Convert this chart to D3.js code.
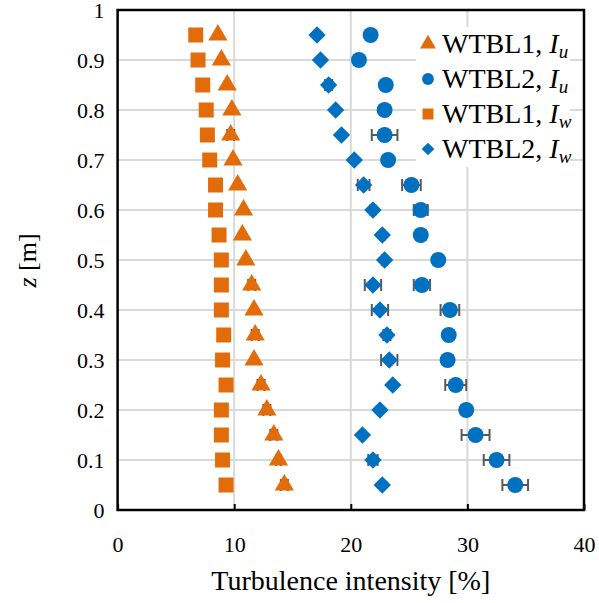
<!DOCTYPE html>
<html>
<head>
<meta charset="utf-8">
<script src="https://cdn.jsdelivr.net/npm/d3@7"></script>
<style>
  body { margin: 0; background: #fff; }
  text { font-family: "Liberation Serif", "Times New Roman", Times, serif; }
</style>
</head>
<body>
<div class="canvas"></div>
<script>
// heights [m]
const zVals = [0.95, 0.9, 0.85, 0.8, 0.75, 0.7, 0.65, 0.6, 0.55, 0.5,
    0.45, 0.4, 0.35, 0.3, 0.25, 0.2, 0.15, 0.1, 0.05];

// turbulence intensities [%]
const wtbl1Iu = [8.6, 8.9, 9.4, 9.8, 9.7, 9.9, 10.3, 10.8, 10.7, 11.0,
    11.5, 11.7, 11.8, 11.7, 12.3, 12.8, 13.4, 13.8, 14.3];
const wtbl1IuErr = [0, 0, 0, 0, 0.3, 0, 0, 0, 0, 0,
    0.3, 0, 0.3, 0, 0.3, 0.3, 0.3, 0.2, 0.3];
const wtbl2Iu = [21.7, 20.7, 23.0, 22.9, 22.9, 23.2, 25.2, 26.0, 26.0, 27.5,
    26.1, 28.5, 28.4, 28.3, 29.0, 29.9, 30.7, 32.5, 34.1];
const wtbl2IuErr = [0, 0, 0, 0, 1.1, 0.3, 0.8, 0.6, 0.4, 0.3,
    0.7, 0.8, 0.2, 0.4, 0.9, 0.3, 1.2, 1.1, 1.1];
const wtbl1Iw = [6.7, 6.9, 7.3, 7.6, 7.7, 7.9, 8.4, 8.4, 8.7, 8.9,
    8.9, 8.9, 9.1, 9.0, 9.3, 8.9, 8.9, 9.0, 9.3];
const wtbl2Iw = [17.1, 17.4, 18.1, 18.7, 19.2, 20.3, 21.1, 21.9, 22.7, 22.9,
    21.9, 22.5, 23.1, 23.3, 23.6, 22.5, 21.0, 21.9, 22.7];
const wtbl2IwErr = [0, 0, 0.3, 0, 0, 0, 0.5, 0.2, 0.2, 0.2,
    0.7, 0.7, 0.3, 0.7, 0, 0, 0, 0.4, 0];

const xTicks = [0, 10, 20, 30, 40];
const yTicks = [0, 0.1, 0.2, 0.3, 0.4, 0.5, 0.6, 0.7, 0.8, 0.9, 1];

const orange = '#E36C0A';
const blue = '#0070C0';

const svg = d3.select('.canvas')
    .append('svg')
    .attr('width', 599)
    .attr('height', 603);

const margins = { top: 10, right: 15, bottom: 92, left: 117.6 };
const graphWidth = 599 - margins.left - margins.right;
const graphHeight = 603 - margins.top - margins.bottom;

const graph = svg.append('g')
    .attr('transform', `translate(${margins.left}, ${margins.top})`);

const x = d3.scaleLinear().domain([0, 40]).range([0, graphWidth]);
const y = d3.scaleLinear().domain([0, 1]).range([graphHeight - 1, 0]);

// gridlines
graph.append('g')
    .selectAll('line.hgrid')
    .data(yTicks.filter(d => d > 0 && d < 1))
    .enter().append('line')
    .attr('x1', 0).attr('x2', graphWidth)
    .attr('y1', d => y(d)).attr('y2', d => y(d))
    .attr('stroke', '#d9d9d9').attr('stroke-width', 2);

graph.append('g')
    .selectAll('line.vgrid')
    .data(xTicks.filter(d => d > 0 && d < 40))
    .enter().append('line')
    .attr('y1', 0).attr('y2', y(0))
    .attr('x1', d => x(d)).attr('x2', d => x(d))
    .attr('stroke', '#d9d9d9').attr('stroke-width', 2);

// axes
const xAxis = d3.axisBottom(x).tickValues(xTicks).tickSize(-6).tickPadding(26).tickFormat(d3.format('d'));
const yAxis = d3.axisLeft(y).tickValues(yTicks).tickSize(0).tickPadding(13).tickFormat(d => d === 0 ? '0' : d === 1 ? '1' : d3.format('.1f')(d));

const xAxisGroup = graph.append('g')
    .attr('transform', `translate(0, ${y(0)})`)
    .call(xAxis);
const yAxisGroup = graph.append('g').call(yAxis);

[xAxisGroup, yAxisGroup].forEach(g => {
    g.attr('font-family', null);
    g.select('.domain').remove();
    g.selectAll('line').attr('stroke', '#000').attr('stroke-width', 2);
    g.selectAll('text').attr('font-size', 22).attr('fill', '#000');
});

// frame
graph.append('rect')
    .attr('x', 0).attr('y', 0)
    .attr('width', graphWidth).attr('height', y(0))
    .attr('fill', 'none').attr('stroke', '#000').attr('stroke-width', 2.5);

// data rows
const rows = zVals.map((z, i) => ({
    z,
    iu1: wtbl1Iu[i], iu1e: wtbl1IuErr[i],
    iu2: wtbl2Iu[i], iu2e: wtbl2IuErr[i],
    iw1: wtbl1Iw[i],
    iw2: wtbl2Iw[i], iw2e: wtbl2IwErr[i]
}));

// error bars
function errorBars(key, errKey) {
    const g = graph.append('g').attr('stroke', '#595959').attr('stroke-width', 2);
    const withErr = rows.filter(d => d[errKey] > 0);
    g.selectAll('line.bar').data(withErr).enter().append('line')
        .attr('x1', d => x(d[key] - d[errKey])).attr('x2', d => x(d[key] + d[errKey]))
        .attr('y1', d => y(d.z)).attr('y2', d => y(d.z));
    [-1, 1].forEach(s => {
        g.selectAll('line.cap' + s).data(withErr).enter().append('line')
            .attr('x1', d => x(d[key] + s * d[errKey])).attr('x2', d => x(d[key] + s * d[errKey]))
            .attr('y1', d => y(d.z) - 6).attr('y2', d => y(d.z) + 6);
    });
}
errorBars('iu1', 'iu1e');
errorBars('iu2', 'iu2e');
errorBars('iw2', 'iw2e');

const symTri = d3.symbol().type(d3.symbolTriangle).size(160);
const symCirc = d3.symbol().type(d3.symbolCircle).size(200);
const symSq = d3.symbol().type(d3.symbolSquare).size(225);
const symDia = d3.symbol().type(d3.symbolSquare).size(150);

function markers(key, sym, color, rot) {
    graph.append('g').selectAll('path').data(rows).enter().append('path')
        .attr('d', sym)
        .attr('transform', d => `translate(${x(d[key])}, ${y(d.z)}) rotate(${rot})`)
        .attr('fill', color);
}
markers('iw1', symSq, orange, 0);
markers('iu1', symTri, orange, 0);
markers('iw2', symDia, blue, 45);
markers('iu2', symCirc, blue, 0);

// legend
const legendItems = [
    { name: 'WTBL1, ', sub: 'u', sym: d3.symbol().type(d3.symbolTriangle).size(110), color: orange, rot: 0 },
    { name: 'WTBL2, ', sub: 'u', sym: d3.symbol().type(d3.symbolCircle).size(110), color: blue, rot: 0 },
    { name: 'WTBL1, ', sub: 'w', sym: d3.symbol().type(d3.symbolSquare).size(120), color: orange, rot: 0 },
    { name: 'WTBL2, ', sub: 'w', sym: d3.symbol().type(d3.symbolSquare).size(80), color: blue, rot: 45 }
];

const legend = svg.append('g').attr('transform', 'translate(428, 44)');
legendItems.forEach((item, i) => {
    const row = legend.append('g').attr('transform', `translate(0, ${i * 35})`);
    row.append('rect').attr('x', -12).attr('y', -17).attr('width', 154).attr('height', 35).attr('fill', '#fff');
    row.append('path').attr('d', item.sym).attr('fill', item.color)
        .attr('transform', `rotate(${item.rot})`);
    const t = row.append('text').attr('x', 14).attr('y', 9)
        .attr('font-size', 28).attr('fill', '#000');
    t.append('tspan').text(item.name);
    t.append('tspan').attr('font-style', 'italic').text('I');
    t.append('tspan').attr('font-style', 'italic').attr('font-size', 19).attr('dy', 5).text(item.sub);
});

// axis titles
svg.append('text')
    .attr('x', margins.left + graphWidth / 2).attr('y', 590)
    .attr('text-anchor', 'middle').attr('font-size', 28)
    .text('Turbulence intensity [%]');

const yTitle = svg.append('text')
    .attr('transform', `translate(36, ${margins.top + graphHeight / 2}) rotate(-90)`)
    .attr('text-anchor', 'middle').attr('font-size', 26);
yTitle.append('tspan').attr('font-style', 'italic').text('z');
yTitle.append('tspan').text(' [m]');
</script>
</body>
</html>
